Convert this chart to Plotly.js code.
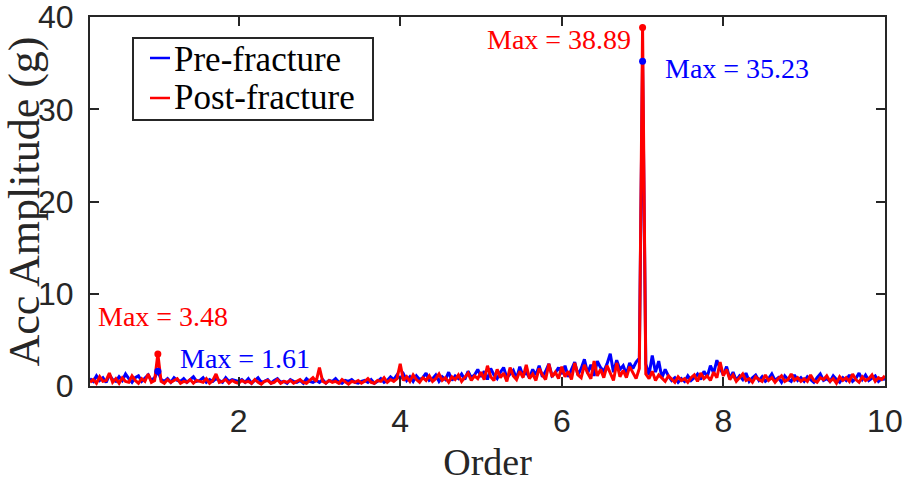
<!DOCTYPE html>
<html>
<head>
<meta charset="utf-8">
<script src="https://cdn.plot.ly/plotly-3.0.1.min.js"></script>
<style>
  body { margin: 0; background: #fff; }
  #plot { width: 905px; height: 483px; }
</style>
</head>
<body>
<div id="plot"></div>
<script>
// order grid: first sample and spacing
const order_start = 0.16;
const order_step = 0.04;

// Pre-fracture acceleration amplitude (g)
const pre_fracture = [
  0.8,0.5,1.1,0.6,0.9,0.4,1.2,0.7,0.5,1.0,0.6,1.3,0.8,0.4,0.9,1.1,0.5,0.8,1.2,0.6,0.9,
  1.61,
  0.7,0.5,0.8,0.4,0.9,0.6,0.5,0.8,0.4,0.7,1.0,0.5,0.6,0.9,0.4,0.7,0.5,0.8,0.6,0.4,0.9,0.5,0.7,0.6,
  0.5,0.7,0.4,0.8,0.3,0.6,0.9,0.4,0.5,0.7,0.3,0.6,0.8,0.4,0.5,0.3,0.7,0.5,0.4,0.6,0.3,0.8,0.5,0.4,0.6,
  0.4,0.7,0.3,0.6,0.5,0.8,0.4,0.3,0.6,0.5,0.7,0.4,0.3,0.5,0.6,0.4,0.7,0.3,0.5,0.8,0.4,0.6,1.0,0.7,1.2,
  0.8,1.3,0.6,1.0,0.5,1.1,0.7,0.9,1.4,0.6,0.8,1.2,0.5,1.0,0.7,1.5,0.6,1.1,0.8,1.3,0.7,1.6,0.9,1.2,1.8,
  1.0,1.6,0.7,1.9,1.2,0.8,1.5,2.0,0.9,1.3,1.7,0.8,2.1,1.1,1.5,0.9,1.8,1.2,2.2,1.0,1.6,2.4,1.1,1.4,2.0,
  1.3,2.2,1.0,1.8,2.6,1.2,1.9,2.9,1.4,2.3,1.1,2.7,2.0,1.6,2.4,3.5,1.5,2.8,1.8,2.2,1.3,2.5,1.9,2.6,3.0,
  35.23,
  2.4,1.2,3.3,1.5,2.7,0.9,1.8,1.1,0.6,0.9,0.4,0.8,0.5,1.1,0.6,0.9,1.3,0.7,1.6,1.0,2.2,1.4,2.8,1.9,
  1.2,2.1,0.8,1.5,0.6,1.1,0.7,1.4,0.5,0.9,1.2,0.6,1.0,0.5,0.8,1.3,0.6,0.9,0.4,1.1,0.7,0.5,1.2,0.6,0.9,
  0.5,1.0,0.7,0.4,0.9,1.3,0.6,0.8,0.5,1.1,0.7,0.4,0.9,0.6,1.2,0.5,0.8,1.4,0.7,1.2,0.6,0.9,1.1,0.5,0.8,0.7
];

// Post-fracture acceleration amplitude (g)
const post_fracture = [
  0.4,0.7,0.3,1.0,0.5,0.6,1.4,0.4,0.8,0.3,0.9,0.5,0.4,1.1,0.6,0.3,0.8,0.5,1.3,0.4,0.6,
  3.48,
  0.5,0.3,0.7,0.4,0.6,0.8,0.3,0.5,0.4,0.7,0.3,0.6,0.5,0.4,0.8,0.3,0.6,1.3,0.4,0.5,0.7,0.3,0.6,0.4,
  0.3,0.6,0.4,0.5,0.3,0.7,0.4,0.2,0.5,0.6,0.3,0.4,0.7,0.3,0.5,0.4,0.6,0.3,0.5,0.7,0.4,0.3,0.6,0.9,0.5,
  2.0,0.5,0.3,0.6,0.4,0.5,0.3,0.7,0.4,0.2,0.5,0.4,0.6,0.3,0.5,0.8,0.4,0.3,0.6,0.5,0.9,0.4,0.7,0.5,0.8,
  2.4,0.6,1.0,0.5,1.2,0.7,0.4,0.9,0.6,1.1,0.5,0.8,1.3,0.6,0.9,0.4,1.0,0.7,1.2,0.5,0.9,1.4,0.6,1.1,0.8,
  1.5,0.7,2.2,1.0,0.6,1.8,0.9,1.4,0.5,2.0,1.1,0.7,1.6,0.9,2.3,0.8,1.3,0.6,1.9,1.2,0.7,2.4,1.0,1.5,0.8,
  2.1,1.0,1.6,0.7,2.5,1.2,0.9,2.3,1.4,0.8,2.7,1.1,1.8,0.9,2.2,1.3,0.6,2.5,1.0,1.7,0.9,2.1,1.4,0.8,1.9,
  38.89,
  1.3,0.8,1.6,0.6,1.2,0.9,0.5,1.1,0.7,0.4,1.0,0.6,0.8,0.4,0.9,1.2,0.5,1.4,0.8,1.1,0.6,1.5,0.9,2.6,
  1.1,1.8,0.7,1.2,0.5,0.9,1.3,0.6,0.8,0.4,1.0,0.7,0.5,1.2,0.6,0.9,0.4,0.8,1.1,0.5,0.7,1.3,0.6,0.9,0.5,
  0.8,0.5,1.2,0.6,0.4,0.9,0.7,1.1,0.5,0.8,0.3,1.0,0.6,0.9,0.5,1.3,0.7,0.4,1.0,0.6,0.8,1.2,0.5,0.9,0.7,1.1
];

// marked maxima
const max_orders = [1, 7];
const pre_max = [1.61, 35.23];
const post_max = [3.48, 38.89];

const x_ticks = [2, 4, 6, 8, 10];
const y_ticks = [0, 10, 20, 30, 40];
const series_names = ['Pre-fracture', 'Post-fracture'];

const orders = pre_fracture.map((v, i) => +(order_start + i*order_step).toFixed(2));

const BLUE = '#0000ff';
const RED = '#ff0000';
const AXIS = '#262626';
const SERIF = 'Times New Roman, Liberation Serif, serif';
const SANS = 'Arial, Liberation Sans, Helvetica, sans-serif';

// plot area in pixels (margins below), used to place the hand-drawn legend
const M = {l: 90, r: 20, t: 17, b: 97};
const PW = 905 - M.l - M.r, PH = 483 - M.t - M.b;
const px = (x) => (x - M.l) / PW;
const py = (y) => (483 - M.b - y) / PH;

var traces = [
  {x: orders, y: pre_fracture, type: 'scatter', mode: 'lines', name: series_names[0],
   line: {color: BLUE, width: 3}},
  {x: orders, y: post_fracture, type: 'scatter', mode: 'lines', name: series_names[1],
   line: {color: RED, width: 3}},
  {x: max_orders, y: pre_max, type: 'scatter', mode: 'markers',
   marker: {color: BLUE, size: 7, symbol: 'circle'}},
  {x: max_orders, y: post_max, type: 'scatter', mode: 'markers',
   marker: {color: RED, size: 7, symbol: 'circle'}}
];

var ann_font = (c) => ({family: SERIF, size: 28, color: c});
var annotations = [
  {x: max_orders[1], y: post_max[1], text: 'Max = ' + post_max[1].toFixed(2), showarrow: false,
   xanchor: 'right', yanchor: 'middle', xshift: -10, yshift: -12, font: ann_font(RED)},
  {x: max_orders[1], y: pre_max[1], text: 'Max = ' + pre_max[1].toFixed(2), showarrow: false,
   xanchor: 'left', yanchor: 'middle', xshift: 20, yshift: -7, font: ann_font(BLUE)},
  {x: max_orders[0], y: post_max[0], text: 'Max = ' + post_max[0].toFixed(2), showarrow: false,
   xanchor: 'left', yanchor: 'middle', xshift: -62, yshift: 37, font: ann_font(RED)},
  {x: max_orders[0], y: pre_max[0], text: 'Max = ' + pre_max[0].toFixed(2), showarrow: false,
   xanchor: 'left', yanchor: 'middle', xshift: 20, yshift: 13, font: ann_font(BLUE)},
  // legend labels
  {xref: 'paper', yref: 'paper', x: px(172), y: py(60), text: series_names[0], showarrow: false,
   xanchor: 'left', yanchor: 'middle', font: {family: SERIF, size: 35, color: '#000'}},
  {xref: 'paper', yref: 'paper', x: px(172), y: py(98), text: series_names[1], showarrow: false,
   xanchor: 'left', yanchor: 'middle', font: {family: SERIF, size: 35, color: '#000'}}
];

var shapes = [
  {type: 'rect', xref: 'paper', yref: 'paper', x0: px(133), x1: px(373), y0: py(120), y1: py(38),
   fillcolor: '#fff', line: {color: AXIS, width: 2}, layer: 'above'},
  {type: 'line', xref: 'paper', yref: 'paper', x0: px(150), x1: px(170), y0: py(58), y1: py(58),
   line: {color: BLUE, width: 2.5}},
  {type: 'line', xref: 'paper', yref: 'paper', x0: px(150), x1: px(170), y0: py(98), y1: py(98),
   line: {color: RED, width: 2.5}}
];

var layout = {
  width: 905, height: 483,
  margin: M,
  paper_bgcolor: '#fff', plot_bgcolor: '#fff',
  showlegend: false,
  xaxis: {
    range: [order_start, 10.001], tickvals: x_ticks, ticktext: x_ticks.map(String),
    ticks: 'inside', ticklen: 9, tickwidth: 2, tickcolor: AXIS,
    showline: true, linecolor: AXIS, linewidth: 2, mirror: 'ticks',
    showgrid: false, zeroline: false, ticklabelstandoff: 6, ticklabeloverflow: 'allow',
    tickfont: {family: SANS, size: 32, color: AXIS},
    title: {text: 'Order', font: {family: SERIF, size: 38, color: AXIS}, standoff: 11}
  },
  yaxis: {
    range: [0, 40.02], tickvals: y_ticks, ticktext: y_ticks.map(String),
    ticks: 'inside', ticklen: 9, tickwidth: 2, tickcolor: AXIS,
    showline: true, linecolor: AXIS, linewidth: 2, mirror: 'ticks',
    showgrid: false, zeroline: false, ticklabelstandoff: 8, ticklabeloverflow: 'allow',
    tickfont: {family: SANS, size: 32, color: AXIS},
    title: {text: 'Acc Amplitude (g)', font: {family: SERIF, size: 44, color: AXIS}, standoff: 0}
  },
  annotations: annotations,
  shapes: shapes
};

Plotly.newPlot('plot', traces, layout, {displayModeBar: false, staticPlot: true});
</script>
</body>
</html>
